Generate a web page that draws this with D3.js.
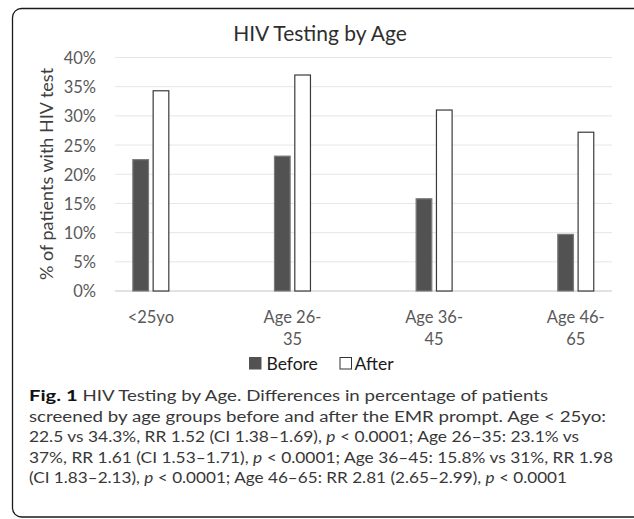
<!DOCTYPE html>
<html>
<head>
<meta charset="utf-8">
<script src="https://cdn.jsdelivr.net/npm/d3@7"></script>
<style>
  html, body { margin: 0; padding: 0; background: #ffffff; }
  svg { display: block; }
</style>
</head>
<body>
<svg id="chart" width="634" height="519"></svg>
<script>
// ---- data ----
const categories = ["<25yo", "Age 26-35", "Age 36-45", "Age 46-65"];
const categoryLines = [["<25yo"], ["Age 26-", "35"], ["Age 36-", "45"], ["Age 46-", "65"]];
const seriesNames = ["Before", "After"];
const beforeValues = [22.5, 23.1, 15.8, 9.7];
const afterValues = [34.3, 37.0, 31.0, 27.2];
const yTicks = [0, 5, 10, 15, 20, 25, 30, 35, 40];
const chartTitle = "HIV Testing by Age";
const yAxisTitle = "% of patients with HIV test";
const captionLines = [
  [["b", "Fig. 1"], ["n", " HIV Testing by Age. Differences in percentage of patients"]],
  [["n", "screened by age groups before and after the EMR prompt. Age < 25yo:"]],
  [["n", "22.5 vs 34.3%, RR 1.52 (CI 1.38\u20131.69), "], ["i", "p"], ["n", " < 0.0001; Age 26\u201335: 23.1% vs"]],
  [["n", "37%, RR 1.61 (CI 1.53\u20131.71), "], ["i", "p"], ["n", " < 0.0001; Age 36\u201345: 15.8% vs 31%, RR 1.98"]],
  [["n", "(CI 1.83\u20132.13), "], ["i", "p"], ["n", " < 0.0001; Age 46\u201365: RR 2.81 (2.65\u20132.99), "], ["i", "p"], ["n", " < 0.0001"]]
];
const captionWidths = [519, 577, 550, 584, 538];

const rows = categories.map((c, i) => ({ cat: c, Before: beforeValues[i], After: afterValues[i] }));

// ---- layout ----
const svg = d3.select("#chart");
const chartFont = "Lato, 'Open Sans', sans-serif";
const plotLeft = 115, plotRight = 612, plotTop = 57.5, plotBottom = 291;

// outer frame
svg.append("rect")
  .attr("x", 12.5).attr("y", 8.5)
  .attr("width", 640).attr("height", 508.5)
  .attr("rx", 9).attr("ry", 9)
  .attr("fill", "none").attr("stroke", "#1a1a1a").attr("stroke-width", 1.3);

const y = d3.scaleLinear().domain([0, 40]).range([plotBottom, plotTop]);
const x0 = d3.scaleBand().domain(categories).range([80, 646.6]).paddingInner(0.739).paddingOuter(0.3695);
const x1 = d3.scaleBand().domain(seriesNames).range([0, x0.bandwidth()]).paddingInner(0.18);

// gridlines
svg.append("g").selectAll("line").data(yTicks).join("line")
  .attr("x1", plotLeft).attr("x2", plotRight)
  .attr("y1", d => y(d)).attr("y2", d => y(d))
  .attr("stroke", d => d === 0 ? "#d9d9d9" : "#e6e6e6")
  .attr("stroke-width", d => d === 0 ? 1.3 : 1);

// y axis labels
const yAxis = d3.axisLeft(y).tickValues(yTicks).tickFormat(d => d + "%").tickSize(0).tickPadding(0);
const yg = svg.append("g").attr("transform", `translate(96,0)`).call(yAxis);
yg.select(".domain").remove();
yg.selectAll("text")
  .attr("font-family", chartFont).attr("font-size", 16.5).attr("fill", "#595959")
  .attr("dy", "0.36em");

// bars
const groups = svg.append("g").selectAll("g").data(rows).join("g")
  .attr("transform", d => `translate(${x0(d.cat)},0)`);
groups.selectAll("rect").data(d => seriesNames.map(s => ({ s, v: d[s] }))).join("rect")
  .attr("x", d => x1(d.s) + 0.5)
  .attr("width", x1.bandwidth() - 1)
  .attr("y", d => y(d.v))
  .attr("height", d => y(0) - y(d.v))
  .attr("fill", d => d.s === "Before" ? "#525252" : "#ffffff")
  .attr("stroke", d => d.s === "Before" ? "#7a7a7a" : "#3a3a3a")
  .attr("stroke-width", 1.2);

// x labels
const xl = svg.append("g").selectAll("text").data(categories).join("text")
  .attr("x", d => x0(d) + x0.bandwidth() / 2)
  .attr("y", 322.5)
  .attr("text-anchor", "middle")
  .attr("font-family", chartFont).attr("font-size", 16.5).attr("fill", "#595959");
xl.each(function(d, i) {
  const t = d3.select(this);
  categoryLines[i].forEach((ln, j) => {
    t.append("tspan").attr("x", x0(d) + x0.bandwidth() / 2).attr("dy", j === 0 ? 0 : 22.5).text(ln);
  });
});

// title
svg.append("text").attr("x", 320).attr("y", 40.5).attr("text-anchor", "middle")
  .attr("font-family", chartFont).attr("font-size", 21).attr("fill", "#2e2e2e")
  .text(chartTitle);

// y axis title
svg.append("text")
  .attr("transform", `translate(52.5,174) rotate(-90)`)
  .attr("text-anchor", "middle")
  .attr("font-family", chartFont).attr("font-size", 18).attr("fill", "#404040")
  .text(yAxisTitle);

// legend
const legendItems = [
  { name: seriesNames[0], sx: 249, tx: 266.5, fill: "#525252", stroke: "#525252" },
  { name: seriesNames[1], sx: 339.5, tx: 354.5, fill: "#ffffff", stroke: "#333333" }
];
const lg = svg.append("g");
legendItems.forEach(it => {
  lg.append("rect").attr("x", it.sx + 0.5).attr("y", 357.5).attr("width", 11.5).attr("height", 11.5)
    .attr("fill", it.fill).attr("stroke", it.stroke).attr("stroke-width", 1);
  lg.append("text").attr("x", it.tx).attr("y", 369.5)
    .attr("font-family", chartFont).attr("font-size", 17.5).attr("fill", "#1a1a1a").text(it.name);
});

// caption
const cap = svg.append("g");
captionLines.forEach((parts, i) => {
  const t = cap.append("text")
    .attr("x", 29).attr("y", 401 + i * 20.5)
    .attr("font-family", "Lato, 'Open Sans', sans-serif")
    .attr("font-size", 14.8).attr("fill", "#383838");
  parts.forEach(([style, txt]) => {
    const sp = t.append("tspan").text(txt);
    if (style === "b") sp.attr("font-weight", "bold").attr("fill", "#111").attr("font-size", 16);
    if (style === "i") sp.attr("font-style", "italic");
  });
  t.attr("textLength", captionWidths[i]).attr("lengthAdjust", "spacingAndGlyphs");
});
</script>
</body>
</html>
